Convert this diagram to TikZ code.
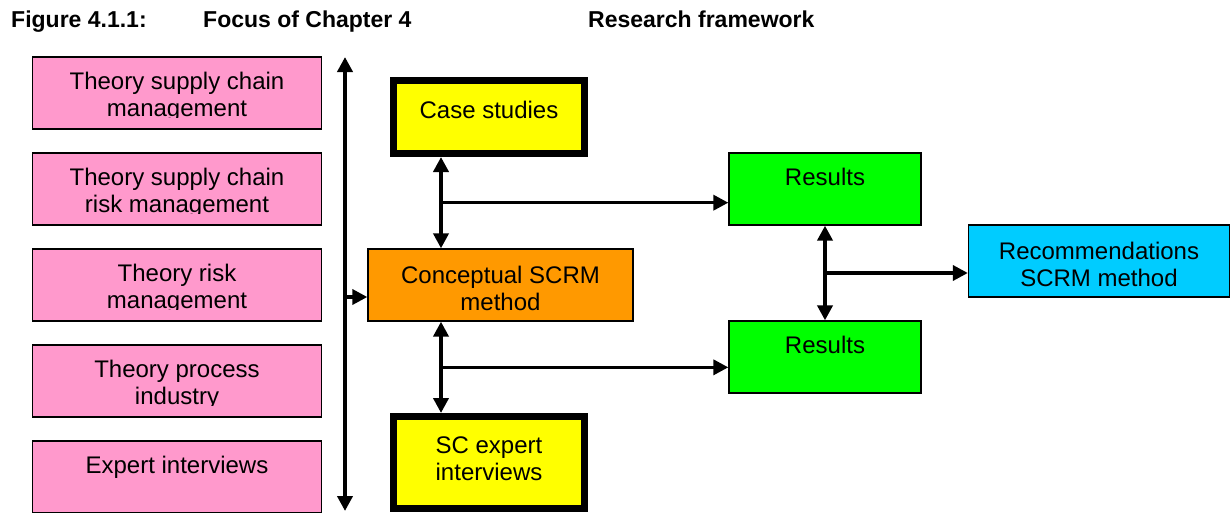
\documentclass[tikz,border=0pt]{standalone}
\usepackage{fontspec}
\setmainfont{Liberation Sans}
\usetikzlibrary{arrows.meta,calc}

\definecolor{theorypink}{HTML}{FF99CC}
\definecolor{caseyellow}{HTML}{FFFF00}
\definecolor{methodorange}{HTML}{FF9900}
\definecolor{resultgreen}{HTML}{00FF00}
\definecolor{recblue}{HTML}{00CCFF}

\tikzset{
  box/.style={draw=black, line width=1.3pt, inner sep=0pt, rectangle},
  theorybox/.style={box, fill=theorypink, minimum width=289pt, minimum height=72pt},
  resultbox/.style={box, fill=resultgreen, minimum width=192pt, minimum height=72pt},
  thickbox/.style={draw=black, line width=7pt, fill=caseyellow, inner sep=0pt,
                   rectangle, minimum width=191pt},
  txt/.style={inner sep=0pt, align=center, font=\fontsize{24}{27}\selectfont},
  heading/.style={inner sep=0pt, anchor=base west, font=\bfseries\fontsize{23}{27}\selectfont},
  link/.style={line width=3.5pt, -{Triangle[length=15pt,width=15pt]}},
  biarrow/.style={line width=4pt,
    {Triangle[length=15pt,width=15pt]}-{Triangle[length=15pt,width=15pt]}},
}

\begin{document}
\begin{tikzpicture}[x=1pt,y=-1pt]
\useasboundingbox (0,0) rectangle (1230,512);
\fill[white] (0,0) rectangle (1230,512);

% heading line
\node[heading] (fig) at (11,27) {Figure 4.1.1:};
\node[heading] (focus) at (203,27) {Focus of Chapter 4};
\node[heading] (frame) at (588,27) {Research framework};

% theory column
\node[theorybox] (p1) at (177,93) {};
\node[theorybox] (p2) at (177,189) {};
\node[theorybox] (p3) at (177,285) {};
\node[theorybox] (p4) at (177,381) {};
\node[theorybox] (p5) at (177,477) {};

\begin{scope}
  \clip (p1.north west) rectangle ([yshift=-61pt]p1.north east);
  \node[txt, anchor=north] (p1t) at ([yshift=-16pt]p1.north) {Theory supply chain\\management};
\end{scope}
\begin{scope}
  \clip (p2.north west) rectangle ([yshift=-61pt]p2.north east);
  \node[txt, anchor=north] (p2t) at ([yshift=-16pt]p2.north) {Theory supply chain\\risk management};
\end{scope}
\begin{scope}
  \clip (p3.north west) rectangle ([yshift=-61pt]p3.north east);
  \node[txt, anchor=north] (p3t) at ([yshift=-16pt]p3.north) {Theory risk\\management};
\end{scope}
\begin{scope}
  \clip (p4.north west) rectangle ([yshift=-61pt]p4.north east);
  \node[txt, anchor=north] (p4t) at ([yshift=-16pt]p4.north) {Theory process\\industry};
\end{scope}
\node[txt, anchor=north] (p5t) at ([yshift=-16pt]p5.north) {Expert interviews};

% research framework
\node[thickbox, minimum height=73pt] (case) at (489,117) {};
\node[txt, anchor=north] (caset) at ([yshift=-23.5pt]case.north) {Case studies};

\node[box, fill=methodorange, minimum width=265pt, minimum height=72pt] (cscrm) at (500.5,285) {};
\node[txt] (cscrmt) at ([yshift=-3pt]cscrm.center) {Conceptual SCRM\\method};

\node[thickbox, minimum height=92pt] (scexp) at (489,462.5) {};
\node[txt, anchor=north] (scexpt) at ([yshift=-23.5pt]scexp.north) {SC expert\\interviews};

\node[resultbox] (res1) at (825,189) {};
\node[txt, anchor=north] (res1t) at ([yshift=-16pt]res1.north) {Results};
\node[resultbox] (res2) at (825,357) {};
\node[txt, anchor=north] (res2t) at ([yshift=-16pt]res2.north) {Results};

\node[box, fill=recblue, minimum width=261pt, minimum height=72pt] (rec) at (1099,261) {};
\node[txt] (rect) at ([yshift=-3pt]rec.center) {Recommendations\\SCRM method};

% connectors
\coordinate (vtop) at (345,57);
\coordinate (vbot) at (345,511);
\draw[biarrow, line width=4.5pt] (vtop) -- (vbot);
\coordinate (feed) at (345,297);
\draw[link] (feed) -- (feed -| cscrm.west);

\coordinate (cx) at (441,0);
\draw[biarrow] (cx |- case.south) -- (cx |- cscrm.north);
\coordinate (m1) at ($(cx |- case.south)!0.5!(cx |- cscrm.north)$);
\draw[link] (m1) -- (m1 -| res1.west);

\draw[biarrow] (cx |- cscrm.south) -- (cx |- scexp.north);
\coordinate (m2) at ($(cx |- cscrm.south)!0.5!(cx |- scexp.north)$);
\draw[link] (m2) -- (m2 -| res2.west);

\draw[biarrow] (res1.south) -- (res2.north);
\coordinate (m3) at ($(res1.south)!0.5!(res2.north)$);
\draw[link] (m3) -- (m3 -| rec.west);
\end{tikzpicture}
\end{document}
